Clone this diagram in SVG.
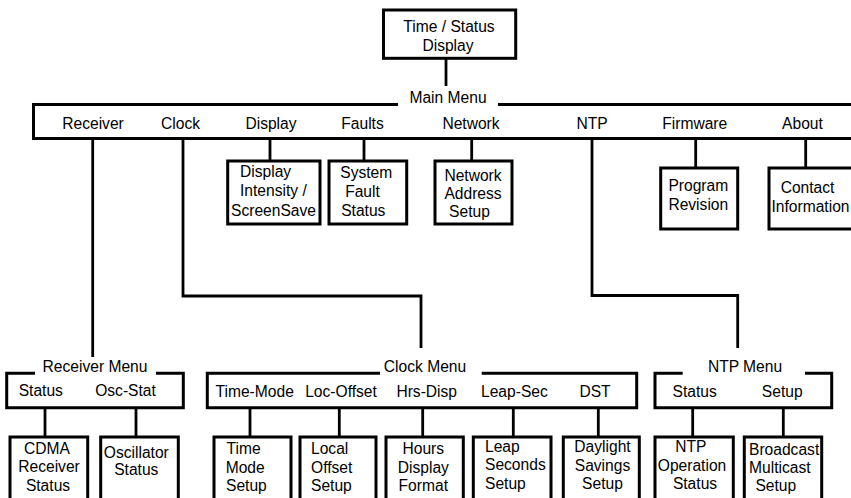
<svg xmlns="http://www.w3.org/2000/svg" width="851" height="498" viewBox="0 0 851 498">
<style>
.b{fill:#fff;stroke:#000;stroke-width:3}
.o{fill:none;stroke:#000;stroke-width:3}
.c{fill:none;stroke:#000;stroke-width:2.8}
text{font-family:"Liberation Sans",Arial,Helvetica,sans-serif;font-size:15.6px;fill:#000}
.m{text-anchor:middle}
</style>
<rect width="851" height="498" fill="#fff"/>
<g id="connectors">
<path class="c" d="M446,58 V86"/>
<path class="c" d="M92.7,138 V357"/>
<path class="c" d="M183,138 V296 H421 V348"/>
<path class="c" d="M592,138 V295.5 H737.7 V348"/>
<path class="c" d="M270,138 V161 M364,138 V161 M471.7,138 V161 M695.7,138 V168 M805.7,138 V168"/>
<path class="c" d="M45,408 V437 M136,408 V437"/>
<path class="c" d="M250,408 V437 M339.3,408 V437 M422.7,408 V437 M513.3,408 V437 M598.3,408 V437"/>
<path class="c" d="M692.7,408 V437 M783.3,408 V437"/>
</g>
<g id="time-status">
<rect class="b" x="383.5" y="10" width="132.2" height="48.3"/>
<text class="m" x="449" y="31.5">Time / Status</text>
<text class="m" x="448" y="50.5">Display</text>
</g>
<g id="main-menu">
<path class="o" d="M398,104.5 H33.5 V138.5 H856 M498,104.5 H856"/>
<text class="m" x="448" y="102.5">Main Menu</text>
<text class="m" x="93" y="128.5">Receiver</text>
<text class="m" x="180.5" y="128.5">Clock</text>
<text class="m" x="271" y="128.5">Display</text>
<text class="m" x="362.5" y="128.5">Faults</text>
<text class="m" x="471" y="128.5">Network</text>
<text class="m" x="592" y="128.5">NTP</text>
<text class="m" x="694.7" y="128.5">Firmware</text>
<text class="m" x="802.5" y="128.5">About</text>
</g>
<g id="display-intensity">
<rect class="b" x="227.7" y="161" width="92.3" height="63"/>
<text x="240" y="177">Display</text>
<text x="240" y="196">Intensity /</text>
<text class="m" x="273.5" y="215.5">ScreenSave</text>
</g>
<g id="system-fault">
<rect class="b" x="329" y="161" width="77.7" height="63"/>
<text class="m" x="366.3" y="178">System</text>
<text class="m" x="362.5" y="196.5">Fault</text>
<text class="m" x="363.3" y="215.5">Status</text>
</g>
<g id="network-address">
<rect class="b" x="435" y="161" width="77" height="63"/>
<text class="m" x="473" y="181">Network</text>
<text class="m" x="473" y="199">Address</text>
<text class="m" x="469.5" y="217">Setup</text>
</g>
<g id="program-revision">
<rect class="b" x="660.7" y="168" width="77" height="61"/>
<text class="m" x="698.3" y="190.5">Program</text>
<text class="m" x="698.3" y="209.5">Revision</text>
</g>
<g id="contact-information">
<rect class="b" x="769" y="168" width="95" height="61"/>
<text class="m" x="807.5" y="192.5">Contact</text>
<text x="771.5" y="212">Information</text>
</g>
<g id="receiver-menu">
<path class="o" d="M35,373.3 H6.7 V407.7 H183.3 V373.3 H156"/>
<text class="m" x="95" y="371.5">Receiver Menu</text>
<text class="m" x="40.8" y="396">Status</text>
<text class="m" x="125.5" y="396">Osc-Stat</text>
</g>
<g id="clock-menu">
<path class="o" d="M380,373.3 H207.3 V407.7 H636.7 V373.3 H481.7"/>
<text class="m" x="425" y="371.5">Clock Menu</text>
<text class="m" x="254.7" y="396.5">Time-Mode</text>
<text class="m" x="341" y="396.5">Loc-Offset</text>
<text class="m" x="426.7" y="396.5">Hrs-Disp</text>
<text class="m" x="514.4" y="396.5">Leap-Sec</text>
<text class="m" x="595" y="396.5">DST</text>
</g>
<g id="ntp-menu">
<path class="o" d="M682.7,373.3 H655 V407.7 H831.7 V373.3 H805"/>
<text class="m" x="745" y="371.5">NTP Menu</text>
<text class="m" x="694.7" y="396.5">Status</text>
<text class="m" x="782.2" y="396.5">Setup</text>
</g>
<g id="cdma-receiver">
<rect class="b" x="10" y="437" width="77.7" height="75"/>
<text class="m" x="47" y="453.5">CDMA</text>
<text class="m" x="49" y="471.5">Receiver</text>
<text class="m" x="48" y="490.5">Status</text>
</g>
<g id="oscillator-status">
<rect class="b" x="100.7" y="437" width="77.6" height="75"/>
<text class="m" x="136.3" y="457.5">Oscillator</text>
<text class="m" x="136.3" y="475">Status</text>
</g>
<g id="time-mode-setup">
<rect class="b" x="214" y="437" width="77" height="75"/>
<text x="226.5" y="454">Time</text>
<text x="225.7" y="472.5">Mode</text>
<text x="226" y="490.5">Setup</text>
</g>
<g id="local-offset-setup">
<rect class="b" x="300" y="437" width="76" height="75"/>
<text x="311" y="454">Local</text>
<text x="311" y="472.5">Offset</text>
<text x="311" y="490.5">Setup</text>
</g>
<g id="hours-display-format">
<rect class="b" x="386" y="437" width="77.3" height="75"/>
<text class="m" x="423.3" y="454">Hours</text>
<text class="m" x="423.3" y="472.5">Display</text>
<text class="m" x="423.3" y="490.5">Format</text>
</g>
<g id="leap-seconds-setup">
<rect class="b" x="473.3" y="437" width="77.7" height="75"/>
<text x="485" y="451.5">Leap</text>
<text x="485" y="470">Seconds</text>
<text x="485" y="488.5">Setup</text>
</g>
<g id="daylight-savings-setup">
<rect class="b" x="563.3" y="437" width="76" height="75"/>
<text class="m" x="602.5" y="452">Daylight</text>
<text class="m" x="602.5" y="470.5">Savings</text>
<text class="m" x="602.5" y="489">Setup</text>
</g>
<g id="ntp-operation-status">
<rect class="b" x="655" y="437" width="78.3" height="75"/>
<text class="m" x="690.8" y="451.7">NTP</text>
<text class="m" x="692" y="470.7">Operation</text>
<text class="m" x="695" y="488.5">Status</text>
</g>
<g id="broadcast-multicast-setup">
<rect class="b" x="744.3" y="437" width="77.4" height="75"/>
<text x="749" y="455">Broadcast</text>
<text x="749" y="472.7">Multicast</text>
<text class="m" x="775.8" y="490.7">Setup</text>
</g>
</svg>
